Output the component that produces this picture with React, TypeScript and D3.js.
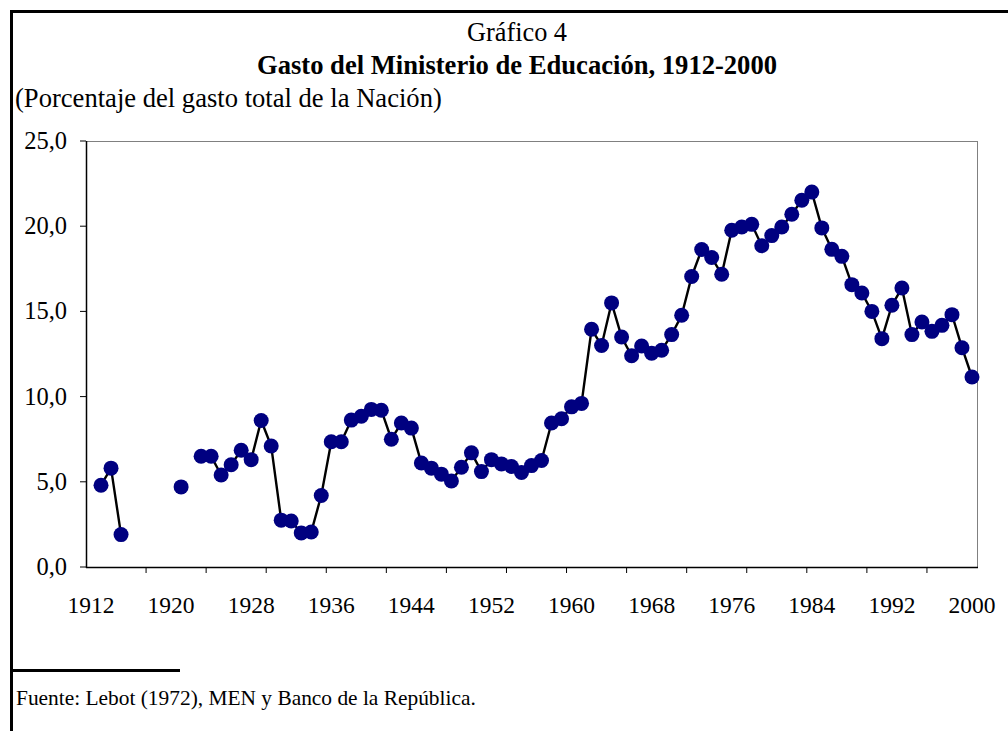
import React from "react";
import * as d3 from "d3";

const years: number[] = d3.range(1912, 2001);

// Percentage of total national spending (null = no data)
const values: (number | null)[] = [
  null, 4.8, 5.8, 1.9, null, null, null, null, null, 4.7, // 1912-1921
  null, 6.5, 6.5, 5.4, 6.0, 6.85, 6.3, 8.6, 7.1, 2.75, // 1922-1931
  2.7, 2.0, 2.05, 4.2, 7.35, 7.35, 8.62, 8.85, 9.25, 9.2, // 1932-1941
  7.5, 8.45, 8.15, 6.1, 5.8, 5.45, 5.05, 5.85, 6.7, 5.6, // 1942-1951
  6.3, 6.05, 5.9, 5.55, 5.95, 6.25, 8.45, 8.7, 9.4, 9.6, // 1952-1961
  13.95, 13.0, 15.5, 13.5, 12.4, 12.97, 12.55, 12.72, 13.64, 14.77, // 1962-1971
  17.05, 18.63, 18.16, 17.18, 19.76, 19.95, 20.11, 18.85, 19.45, 19.95, // 1972-1981
  20.7, 21.52, 22.0, 19.9, 18.64, 18.23, 16.57, 16.08, 15.0, 13.4, // 1982-1991
  15.36, 16.37, 13.64, 14.38, 13.83, 14.18, 14.81, 12.87, 11.15, // 1992-2000
];

const yTicks: number[] = [0, 5, 10, 15, 20, 25];
const xLabelYears: number[] = d3.range(1912, 2001, 8);
const xTickEvery = 6;

const titleTop = "Gráfico 4";
const titleMain = "Gasto del Ministerio de Educación, 1912-2000";
const subtitle = "(Porcentaje del gasto total de la Nación)";
const source = "Fuente: Lebot (1972), MEN y Banco de la República.";

export default function App() {
  const W = 1008;
  const H = 731;
  const left = 86;
  const right = 977;
  const top = 141;
  const bottom = 567;

  const x = d3
    .scaleBand<number>()
    .domain(years)
    .range([left, right])
    .paddingInner(0)
    .paddingOuter(0);
  const cx = (yr: number) => (x(yr) as number) + x.bandwidth() / 2;
  const y = d3.scaleLinear().domain([0, 25]).range([bottom, top]);

  const pts = years.map((yr, i) => ({ yr, v: values[i] }));
  const line = d3
    .line<{ yr: number; v: number | null }>()
    .defined((d) => d.v !== null)
    .x((d) => cx(d.yr))
    .y((d) => y(d.v as number));

  const tickXs: number[] = [];
  for (let i = xTickEvery; i < years.length; i += xTickEvery) {
    tickXs.push(x(years[i]) as number);
  }

  const font = "'Liberation Serif', 'Times New Roman', serif";

  return (
    <svg
      width={W}
      height={H}
      style={{ position: "absolute", left: 0, top: 0, background: "#fff" }}
      fontFamily={font}
    >
      <rect x={0} y={0} width={W} height={H} fill="#fff" />
      {/* outer frame */}
      <line x1={11.5} y1={10} x2={11.5} y2={H} stroke="#000" strokeWidth={3} />
      <line x1={10} y1={11.5} x2={W} y2={11.5} stroke="#000" strokeWidth={3} />
      <line x1={12} y1={670.5} x2={180} y2={670.5} stroke="#000" strokeWidth={3} />

      <text x={517} y={41} textAnchor="middle" fontSize={26.3}>
        {titleTop}
      </text>
      <text x={517} y={74} textAnchor="middle" fontSize={26.6} fontWeight="bold">
        {titleMain}
      </text>
      <text x={15} y={107} fontSize={26.6}>
        {subtitle}
      </text>

      {/* plot border */}
      <line x1={left} y1={top + 0.5} x2={right + 0.5} y2={top + 0.5} stroke="#808080" strokeWidth={1} />
      <line x1={right + 0.5} y1={top} x2={right + 0.5} y2={bottom} stroke="#808080" strokeWidth={1} />

      {/* y axis */}
      <line x1={left + 0.5} y1={top} x2={left + 0.5} y2={bottom + 1} stroke="#000" strokeWidth={1.5} />
      {yTicks.map((t) => (
        <g key={t}>
          <line x1={left - 6} y1={y(t)} x2={left} y2={y(t)} stroke="#000" strokeWidth={1} />
          <text x={67} y={y(t) + 8} textAnchor="end" fontSize={24.5}>
            {t.toFixed(1).replace(".", ",")}
          </text>
        </g>
      ))}

      {/* x axis */}
      <line x1={left} y1={bottom + 0.5} x2={right + 1} y2={bottom + 0.5} stroke="#000" strokeWidth={1.5} />
      {tickXs.map((tx, i) => (
        <line key={i} x1={tx} y1={bottom} x2={tx} y2={bottom + 6} stroke="#000" strokeWidth={1} />
      ))}
      {xLabelYears.map((yr) => (
        <text key={yr} x={cx(yr)} y={613} textAnchor="middle" fontSize={23.5}>
          {yr}
        </text>
      ))}

      {/* series */}
      <path d={line(pts) || ""} fill="none" stroke="#000" strokeWidth={2.4} />
      {pts
        .filter((d) => d.v !== null)
        .map((d) => (
          <circle key={d.yr} cx={cx(d.yr)} cy={y(d.v as number)} r={7.5} fill="#000080" />
        ))}

      <text x={16} y={705} fontSize={21.4}>
        {source}
      </text>
    </svg>
  );
}
